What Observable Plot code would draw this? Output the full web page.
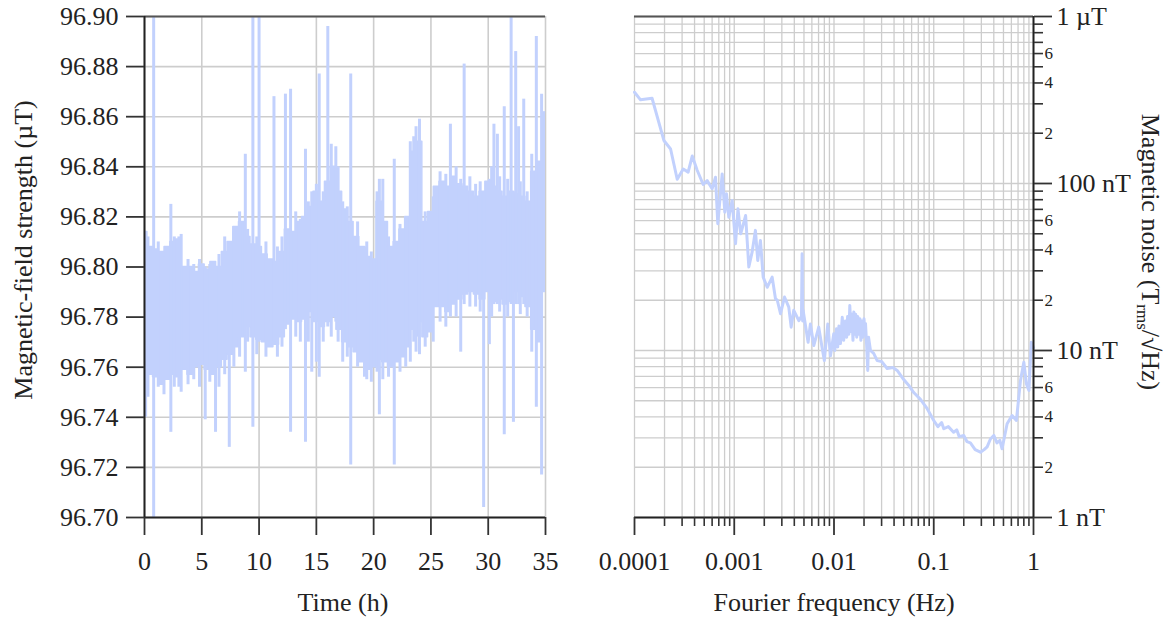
<!DOCTYPE html>
<html>
<head>
<meta charset="utf-8">
<script src="https://cdn.jsdelivr.net/npm/d3@7"></script>
<script src="https://cdn.jsdelivr.net/npm/@observablehq/plot@0.6"></script>
<style>
  html, body { margin: 0; padding: 0; background: #fff; }
  #wrap { display: flex; width: 1174px; height: 623px; }
  svg { display: block; }
</style>
</head>
<body>
<div id="wrap"></div>
<script>
// ---------- Left panel: field strength vs time ----------
const hourTicks = [0, 5, 10, 15, 20, 25, 30, 35];
const fieldTicks = [96.70, 96.72, 96.74, 96.76, 96.78, 96.80, 96.82, 96.84, 96.86, 96.88, 96.90];

// dense noise band (lower / upper envelope), hours
const bandHours = [0,0.5,1,1.5,2,2.5,3,3.5,4,4.5,5,5.5,6,6.5,7,7.5,8,8.5,9,9.5,10,10.5,11,11.5,12,12.5,13,13.5,14,14.5,15,15.5,16,16.5,17,17.5,18,18.5,19,19.5,20,20.5,21,21.5,22,22.5,23,23.5,24,24.5,25,25.5,26,26.5,27,27.5,28,28.5,29,29.5,30,30.5,31,31.5,32,32.5,33,33.5,34,34.5,35];
const bandLow  = [96.758,96.757,96.756,96.753,96.755,96.757,96.756,96.759,96.757,96.760,96.761,96.759,96.757,96.760,96.763,96.765,96.768,96.772,96.776,96.772,96.771,96.770,96.768,96.769,96.772,96.777,96.779,96.778,96.779,96.782,96.778,96.776,96.778,96.780,96.775,96.770,96.768,96.766,96.762,96.759,96.760,96.763,96.762,96.760,96.762,96.764,96.768,96.775,96.778,96.772,96.774,96.784,96.784,96.782,96.785,96.787,96.789,96.790,96.789,96.787,96.790,96.786,96.787,96.785,96.786,96.790,96.788,96.784,96.775,96.770,96.790];
const bandHigh = [96.814,96.808,96.807,96.806,96.808,96.810,96.811,96.800,96.800,96.798,96.801,96.799,96.802,96.800,96.806,96.810,96.816,96.818,96.812,96.809,96.808,96.805,96.803,96.802,96.806,96.815,96.814,96.818,96.820,96.824,96.830,96.826,96.834,96.840,96.830,96.823,96.818,96.812,96.808,96.804,96.803,96.826,96.818,96.808,96.810,96.815,96.820,96.846,96.850,96.818,96.822,96.832,96.834,96.832,96.836,96.833,96.832,96.830,96.828,96.830,96.834,96.832,96.830,96.828,96.830,96.829,96.828,96.826,96.838,96.842,96.860];

// isolated large excursions (spikes)
const spikeHours = [0.1,0.8,2.3,3.0,5.3,6.2,7.4,8.8,9.46,10.0,11.3,12.3,12.75,14.05,14.6,15.25,16.0,16.7,18.0,19.2,20.5,21.8,23.7,24.0,26.7,27.6,27.9,29.6,30.1,30.5,30.8,31.4,32.0,32.2,32.4,32.65,33.1,34.2,34.66,34.9];
const spikeLow  = [96.740,96.700,96.734,96.752,96.739,96.734,96.728,96.758,96.736,96.770,96.770,96.775,96.734,96.730,96.758,96.756,96.776,96.778,96.721,96.756,96.741,96.721,96.766,96.765,96.780,96.766,96.785,96.704,96.769,96.785,96.785,96.733,96.785,96.738,96.785,96.785,96.785,96.744,96.717,96.790];
const spikeHigh = [96.812,96.900,96.825,96.812,96.800,96.800,96.806,96.845,96.900,96.900,96.868,96.869,96.871,96.847,96.830,96.877,96.896,96.848,96.877,96.808,96.835,96.843,96.856,96.859,96.857,96.835,96.881,96.830,96.835,96.857,96.853,96.864,96.900,96.830,96.886,96.856,96.867,96.892,96.869,96.862];

// smaller bursts that roughen the band edges
const burstHours = [0.3,1.2,1.7,2.6,3.2,3.8,4.3,4.8,5.7,6.5,7.0,7.8,8.3,9.0,9.8,10.6,11.6,12.0,13.2,13.6,14.3,15.0,15.6,16.3,16.9,17.3,17.7,18.6,19.4,19.8,20.3,20.8,21.3,22.3,22.8,23.2,23.5,23.9,24.5,25.2,25.8,26.3,27.2,28.4,28.9,29.3,30.3,31.0,31.7,32.8,33.4,33.8];
const burstLow  = [96.748,96.752,96.749,96.752,96.750,96.753,96.755,96.752,96.754,96.752,96.757,96.760,96.764,96.770,96.765,96.764,96.764,96.768,96.772,96.770,96.770,96.762,96.770,96.772,96.770,96.762,96.764,96.760,96.755,96.754,96.758,96.755,96.756,96.758,96.760,96.762,96.770,96.772,96.768,96.770,96.778,96.776,96.780,96.784,96.784,96.782,96.780,96.782,96.780,96.781,96.780,96.766];
const burstHigh = [96.812,96.810,96.804,96.812,96.813,96.803,96.801,96.803,96.801,96.805,96.812,96.814,96.822,96.815,96.812,96.810,96.808,96.812,96.822,96.819,96.826,96.833,96.830,96.849,96.840,96.826,96.824,96.818,96.810,96.806,96.830,96.835,96.812,96.817,96.818,96.850,96.852,96.848,96.822,96.828,96.838,96.837,96.840,96.836,96.833,96.834,96.840,96.836,96.835,96.834,96.830,96.845];

// ---------- Right panel: noise spectrum ----------
const freqHz = [1e-4,1.15e-4,1.5e-4,1.97e-4,2.3e-4,2.68e-4,3.08e-4,3.45e-4,3.79e-4,4.25e-4,4.88e-4,5.35e-4,6.0e-4,6.49e-4,6.84e-4,7.57e-4,8.04e-4,8.36e-4,8.82e-4,9.53e-4,1.03e-3,1.09e-3,1.16e-3,1.30e-3,1.40e-3,1.51e-3,1.63e-3,1.72e-3,1.83e-3,1.95e-3,2.14e-3,2.40e-3,2.59e-3,2.70e-3,2.91e-3,3.19e-3,3.52e-3,3.72e-3,3.95e-3,4.44e-3,4.72e-3,4.79e-3,4.85e-3,4.9e-3,5.5e-3,5.8e-3,6.27e-3,7.03e-3,7.6e-3,8.0e-3,8.66e-3,9.22e-3,9.95e-3,1.02e-2,1.06e-2,1.09e-2,1.12e-2,1.16e-2,1.21e-2,1.25e-2,1.30e-2,1.34e-2,1.37e-2,1.41e-2,1.44e-2,1.48e-2,1.51e-2,1.55e-2,1.58e-2,1.62e-2,1.65e-2,1.69e-2,1.73e-2,1.77e-2,1.82e-2,1.86e-2,1.91e-2,1.95e-2,2.0e-2,2.04e-2,2.07e-2,2.12e-2,2.18e-2,2.22e-2,2.32e-2,2.5e-2,2.71e-2,3.0e-2,3.41e-2,3.9e-2,4.3e-2,5.0e-2,5.6e-2,6.3e-2,7.36e-2,8.6e-2,0.1,0.11,0.12,0.126,0.14,0.158,0.17,0.18,0.2,0.215,0.233,0.26,0.294,0.32,0.343,0.37,0.4,0.43,0.46,0.484,0.544,0.61,0.674,0.74,0.8,0.85,0.9,0.95,1.0];
const noiseT = [3.52e-7,3.17e-7,3.24e-7,1.81e-7,1.61e-7,1.06e-7,1.22e-7,1.17e-7,1.46e-7,1.20e-7,9.86e-8,1.04e-7,9.3e-8,1.09e-7,5.74e-8,1.14e-7,6.73e-8,8.67e-8,6.28e-8,7.91e-8,4.36e-8,7.05e-8,5.0e-8,6.43e-8,3.16e-8,3.88e-8,5.24e-8,3.46e-8,4.56e-8,2.75e-8,2.39e-8,2.75e-8,2.04e-8,2.0e-8,1.66e-8,2.09e-8,1.82e-8,1.38e-8,1.74e-8,1.51e-8,1.60e-8,3.79e-8,1.5e-8,1.74e-8,1.12e-8,1.44e-8,1.07e-8,1.38e-8,1.04e-8,8.7e-9,1.44e-8,9.3e-9,1.26e-8,1.0e-8,1.35e-8,1.05e-8,1.4e-8,1.1e-8,1.58e-8,1.15e-8,1.5e-8,1.2e-8,1.6e-8,1.25e-8,1.86e-8,1.3e-8,1.65e-8,1.15e-8,1.7e-8,1.25e-8,1.65e-8,1.2e-8,1.6e-8,1.25e-8,1.55e-8,1.15e-8,1.5e-8,1.2e-8,1.55e-8,1.25e-8,1.45e-8,1.1e-8,7.6e-9,1.2e-8,1.0e-8,9.6e-9,8.7e-9,8.6e-9,7.8e-9,7.9e-9,7.6e-9,6.7e-9,6.2e-9,5.6e-9,5.1e-9,4.48e-9,3.81e-9,3.5e-9,3.7e-9,3.4e-9,3.5e-9,3.24e-9,3.35e-9,3.05e-9,3.1e-9,2.85e-9,2.8e-9,2.55e-9,2.46e-9,2.55e-9,2.65e-9,2.95e-9,3.1e-9,2.8e-9,2.9e-9,2.58e-9,3.64e-9,4.08e-9,3.81e-9,6.6e-9,8.5e-9,6.3e-9,5.76e-9,1.12e-8,1.04e-8];

const freqMajor = [1e-4, 1e-3, 1e-2, 1e-1, 1];
const freqLabels = ["0.0001", "0.001", "0.01", "0.1", "1"];
const noiseMajor = [1e-9, 1e-8, 1e-7, 1e-6];
const noiseLabels = ["1 nT", "10 nT", "100 nT", "1 µT"];
const minorMultipliers = [2, 3, 4, 5, 6, 7, 8, 9];
const noiseMinorLabelValues = [2e-9, 4e-9, 6e-9, 2e-8, 4e-8, 6e-8, 2e-7, 4e-7, 6e-7];
const noiseMinorLabelText = ["2", "4", "6", "2", "4", "6", "2", "4", "6"];

const blue = "#c2d1fd";
const gridColor = "#cdcdcd";
const font = "'Liberation Serif', 'Times New Roman', serif";

const band = bandHours.map((t, i) => ({t, lo: bandLow[i], hi: bandHigh[i]}));
const spikes = spikeHours.map((t, i) => ({t, lo: spikeLow[i], hi: spikeHigh[i]}));
const bursts = burstHours.map((t, i) => ({t, lo: burstLow[i], hi: burstHigh[i]}));
const spectrum = freqHz.map((f, i) => ({f, v: noiseT[i]}));
const minorLabels = noiseMinorLabelValues.map((v, i) => ({v, text: noiseMinorLabelText[i]}));

const freqMinor = freqMajor.slice(0, -1).flatMap(d => minorMultipliers.map(m => +(d * m).toPrecision(3)));
const noiseMinor = noiseMajor.slice(0, -1).flatMap(d => minorMultipliers.map(m => +(d * m).toPrecision(3)));
const near = (a, b) => Math.abs(a / b - 1) < 1e-6;

const left = Plot.plot({
  width: 580, height: 623,
  marginLeft: 144, marginRight: 35, marginTop: 16, marginBottom: 106,
  style: {fontFamily: font, fontSize: "26px", background: "white", color: "#222"},
  x: {domain: [0, 35]},
  y: {domain: [96.70, 96.90]},
  marks: [
    Plot.gridX(hourTicks, {stroke: gridColor, strokeOpacity: 1, strokeWidth: 1.6}),
    Plot.gridY(fieldTicks, {stroke: gridColor, strokeOpacity: 1, strokeWidth: 1.6}),
    Plot.areaY(band, {x: "t", y1: "lo", y2: "hi", fill: blue, stroke: blue, strokeWidth: 1.5, curve: "step", clip: true}),
    Plot.ruleX(bursts, {x: "t", y1: "lo", y2: "hi", stroke: blue, strokeWidth: 3, clip: true}),
    Plot.ruleX(spikes, {x: "t", y1: "lo", y2: "hi", stroke: blue, strokeWidth: 3, clip: true}),
    Plot.ruleY([96.90], {stroke: "#555", strokeWidth: 2}),
    Plot.ruleX([0], {stroke: "#222", strokeWidth: 2}),
    Plot.ruleY([96.70], {stroke: "#222", strokeWidth: 2}),
    Plot.axisX(hourTicks, {tickSize: 18, tickPadding: 16, strokeWidth: 1.8, stroke: "#333", label: null, fontSize: 26}),
    Plot.axisY(fieldTicks, {tickSize: 18, tickPadding: 8, strokeWidth: 1.8, stroke: "#333", label: null, fontSize: 26, tickFormat: d3.format(".2f")})
  ]
});

const right = Plot.plot({
  width: 594, height: 623,
  marginLeft: 54, marginRight: 141, marginTop: 16, marginBottom: 106,
  style: {fontFamily: font, fontSize: "26px", background: "white", color: "#222"},
  x: {type: "log", domain: [1e-4, 1]},
  y: {type: "log", domain: [1e-9, 1e-6]},
  marks: [
    Plot.gridX(freqMinor.concat(freqMajor), {stroke: gridColor, strokeOpacity: 1, strokeWidth: 1.3}),
    Plot.gridY(noiseMinor.concat(noiseMajor), {stroke: gridColor, strokeOpacity: 1, strokeWidth: 1.3}),
    Plot.line(spectrum, {x: "f", y: "v", stroke: blue, strokeWidth: 3, strokeLinejoin: "round"}),
    Plot.ruleY([1e-6], {stroke: "#555", strokeWidth: 2}),
    Plot.ruleX([1], {stroke: "#222", strokeWidth: 2}),
    Plot.ruleY([1e-9], {stroke: "#222", strokeWidth: 2}),
    Plot.axisX(freqMajor, {tickSize: 18, tickPadding: 16, strokeWidth: 1.8, stroke: "#333", label: null, fontSize: 26,
      tickFormat: d => freqLabels[freqMajor.findIndex(v => near(v, d))]}),
    Plot.axisX(freqMinor, {tickSize: 9, strokeWidth: 1.6, stroke: "#333", label: null, tickFormat: () => ""}),
    Plot.axisY(noiseMajor, {anchor: "right", tickSize: 18, tickPadding: 5, strokeWidth: 1.8, stroke: "#333", label: null, fontSize: 26,
      tickFormat: d => noiseLabels[noiseMajor.findIndex(v => near(v, d))]}),
    Plot.axisY(noiseMinor, {anchor: "right", tickSize: 9, strokeWidth: 1.6, stroke: "#333", label: null, tickFormat: () => ""}),
    Plot.text(minorLabels, {y: "v", text: "text", frameAnchor: "right", dx: 11, textAnchor: "start", fontSize: 17, fill: "#222"})
  ]
});

const wrap = document.getElementById("wrap");
wrap.appendChild(left);
wrap.appendChild(right);

// axis titles
const ls = d3.select(left);
ls.append("text").attr("x", 343).attr("y", 605).attr("text-anchor", "middle").attr("dominant-baseline", "middle")
  .attr("font-family", font).attr("font-size", 26).attr("fill", "#222").text("Time (h)");
ls.append("text").attr("transform", "translate(26,250) rotate(-90)").attr("text-anchor", "middle").attr("dominant-baseline", "middle")
  .attr("font-family", font).attr("font-size", 26).attr("fill", "#222").text("Magnetic-field strength (µT)");

const rs = d3.select(right);
rs.append("text").attr("x", 254).attr("y", 605).attr("text-anchor", "middle").attr("dominant-baseline", "middle")
  .attr("font-family", font).attr("font-size", 26).attr("fill", "#222").text("Fourier frequency (Hz)");
const rt = rs.append("text").attr("transform", "translate(568,252) rotate(90)").attr("text-anchor", "middle").attr("dominant-baseline", "middle")
  .attr("font-family", font).attr("font-size", 26).attr("fill", "#222");
rt.append("tspan").text("Magnetic noise (T");
rt.append("tspan").attr("font-size", 17).attr("dy", 7).text("rms");
rt.append("tspan").attr("dy", -7).text("/√Hz)");
</script>
</body>
</html>
